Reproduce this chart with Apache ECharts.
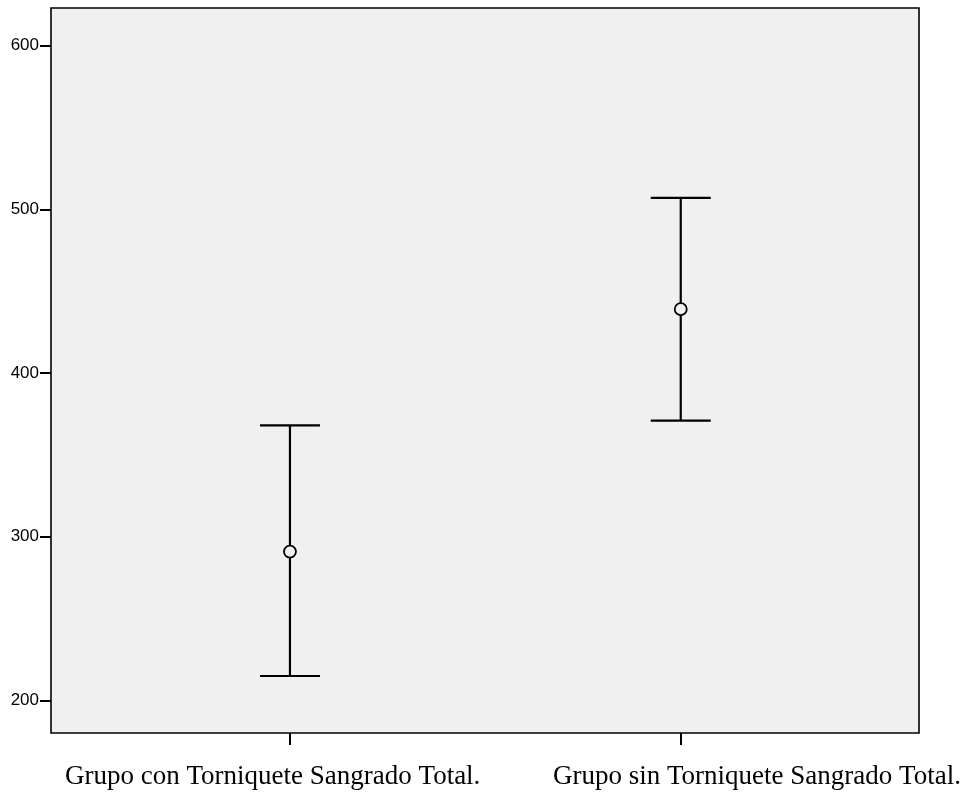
<!DOCTYPE html>
<html>
<head>
<meta charset="utf-8">
<script src="https://cdn.jsdelivr.net/npm/echarts@6/dist/echarts.min.js"></script>
<style>
html,body{margin:0;padding:0;background:#fff;}
#chart{width:963px;height:795px;}
</style>
</head>
<body>
<div id="chart"></div>
<script>
// ---- data ----
var categories = ['Grupo con Torniquete Sangrado Total.', 'Grupo sin Torniquete Sangrado Total.'];
var categoryPos = [1, 2];
var means = [291, 439];
var lower = [215, 371];
var upper = [368, 507];
var yTicks = [200, 300, 400, 500, 600];

var chart = echarts.init(document.getElementById('chart'), null, {renderer: 'canvas'});

var errData = categoryPos.map(function (p, i) { return [p, lower[i], upper[i]]; });
var meanData = categoryPos.map(function (p, i) { return [p, means[i]]; });

var option = {
  animation: false,
  backgroundColor: '#ffffff',
  grid: {
    left: 51, right: 44, top: 8, bottom: 62,
    show: true, backgroundColor: '#f0f0f0', borderColor: '#000', borderWidth: 1.6
  },
  xAxis: {
    type: 'value',
    min: 0.3885, max: 2.6097,
    axisLine: {show: false},
    splitLine: {show: false},
    axisTick: {show: true, customValues: categoryPos, length: 12, lineStyle: {color: '#000', width: 2}},
    axisLabel: {show: false}
  },
  yAxis: {
    type: 'value',
    min: 180.2, max: 622.9,
    axisLine: {show: false},
    splitLine: {show: false},
    axisTick: {show: true, customValues: yTicks, length: 11, lineStyle: {color: '#000', width: 2}},
    axisLabel: {
      customValues: yTicks, margin: 12, color: '#000',
      fontFamily: 'Liberation Sans', fontSize: 17
    }
  },
  series: [
    {
      type: 'custom',
      data: errData,
      renderItem: function (params, api) {
        var x = api.value(0);
        var lo = api.coord([x, api.value(1)]);
        var hi = api.coord([x, api.value(2)]);
        var hw = 30;
        var st = {stroke: '#000', lineWidth: 2.2};
        return {
          type: 'group',
          children: [
            {type: 'line', shape: {x1: lo[0], y1: lo[1], x2: hi[0], y2: hi[1]}, style: st},
            {type: 'line', shape: {x1: lo[0] - hw, y1: lo[1], x2: lo[0] + hw, y2: lo[1]}, style: st},
            {type: 'line', shape: {x1: hi[0] - hw, y1: hi[1], x2: hi[0] + hw, y2: hi[1]}, style: st}
          ]
        };
      },
      z: 2
    },
    {
      type: 'scatter',
      data: meanData,
      symbol: 'circle',
      symbolSize: 12,
      itemStyle: {color: '#f0f0f0', borderColor: '#000', borderWidth: 1.8, opacity: 1},
      z: 3
    }
  ],
  graphic: [
    {type: 'text', x: 65, y: 777, style: {text: categories[0], fontFamily: 'Liberation Serif', fontSize: 27, fill: '#000', textVerticalAlign: 'middle'}},
    {type: 'text', x: 553, y: 777, style: {text: categories[1], fontFamily: 'Liberation Serif', fontSize: 27, fill: '#000', textVerticalAlign: 'middle'}}
  ]
};
chart.setOption(option);
</script>
</body>
</html>
